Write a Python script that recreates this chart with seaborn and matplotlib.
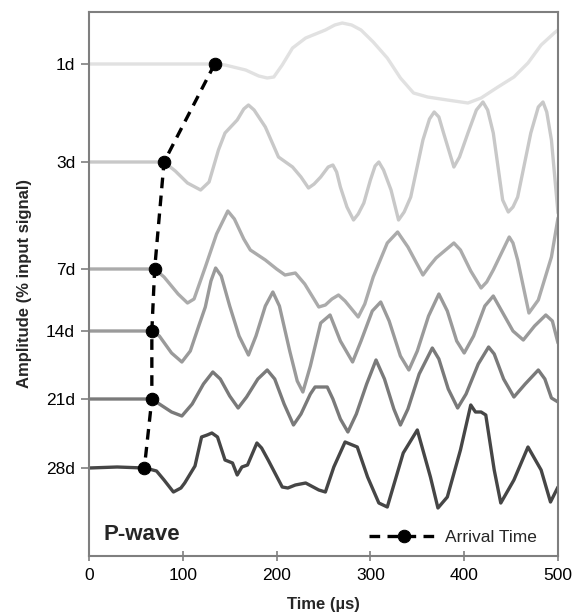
import numpy as np
import pandas as pd
import matplotlib
matplotlib.use("Agg")
import matplotlib.pyplot as plt
import seaborn as sns

# Curing ages, stacked from top to bottom
ages = ["1d", "3d", "7d", "14d", "21d", "28d"]
offsets = [492, 394, 287, 225, 157, 88]
colors = ["#e1e1e1", "#c8c8c8", "#ababab", "#9a9a9a", "#7a7a7a", "#464646"]

# P-wave arrival time for each age (µs)
arrival = [134, 80, 70, 67, 67, 59]

# Recorded waveforms: time (µs) and amplitude relative to each trace's baseline
t_1d = [0, 60, 100, 134, 145, 167, 181, 190, 197, 206, 217, 231, 252, 262, 270, 280, 290,
        303, 318, 332, 346, 361, 382, 404, 418, 436, 453, 468, 482, 496, 500]
a_1d = [0, 0, 0, 0, -1, -6, -12, -14, -13, -1, 16, 26, 34, 39, 41, 39, 34,
        22, 6, -14, -29, -33, -36, -39, -34, -23, -13, 1, 19, 31, 34]

t_3d = [0, 40, 80, 92, 105, 119, 128, 138, 145, 151, 158, 165, 170, 176, 188, 202, 217, 226,
        234, 240, 247, 255, 260, 264, 268, 275, 282, 287, 293, 300, 305, 309, 314, 322, 330,
        336, 343, 356, 363, 368, 373, 378, 389, 395, 404, 413, 420, 425, 431, 441, 447, 452,
        457, 471, 479, 484, 488, 493, 500]
a_3d = [0, 0, 0, -9, -21, -28, -20, 12, 29, 35, 42, 53, 57, 52, 35, 5, -5, -15,
        -26, -22, -15, -5, -3, -10, -25, -45, -58, -52, -41, -18, -4, 0, -8, -28, -58,
        -50, -35, 22, 43, 50, 45, 29, -5, 5, 29, 52, 60, 52, 29, -38, -50, -45,
        -35, 29, 55, 60, 50, 22, -51]

t_7d = [0, 35, 70, 80, 95, 105, 112, 124, 136, 148, 155, 165, 172, 188, 200, 209, 220, 230,
        245, 252, 259, 266, 273, 287, 294, 303, 318, 329, 340, 356, 363, 370, 389, 396, 407,
        418, 424, 431, 448, 452, 457, 469, 479, 493, 500]
a_7d = [0, 0, 0, -8, -25, -34, -30, 2, 35, 58, 50, 30, 19, 9, 0, -6, -4, -15,
        -38, -36, -30, -26, -32, -48, -35, -8, 26, 37, 22, -6, 3, 11, 26, 19, -2,
        -19, -13, -1, 32, 26, 9, -44, -31, 12, 51]

t_14d = [0, 35, 67, 75, 88, 99, 108, 117, 124, 130, 135, 141, 150, 160, 170, 178, 188, 196,
         203, 214, 222, 228, 236, 247, 257, 268, 281, 290, 302, 311, 320, 332, 341, 350, 362,
         373, 382, 392, 400, 410, 422, 431, 440, 452, 463, 475, 487, 494, 500]
a_14d = [0, 0, 0, -5, -22, -31, -20, 5, 24, 50, 63, 55, 25, -5, -24, -5, 25, 39,
         25, -20, -50, -61, -35, 8, 16, -10, -31, -10, 20, 29, 10, -25, -39, -20, 15,
         37, 20, -10, -22, -5, 25, 35, 20, 0, -9, 5, 16, 10, -12]

t_21d = [0, 35, 67, 75, 88, 99, 110, 122, 132, 140, 150, 159, 168, 180, 190, 198, 208, 218,
         226, 236, 241, 254, 260, 268, 276, 285, 296, 306, 315, 325, 332, 340, 352, 366, 373,
         383, 393, 402, 415, 426, 432, 442, 453, 465, 479, 486, 493, 500]
a_21d = [0, 0, 0, -5, -13, -17, -5, 15, 27, 20, 3, -9, 2, 20, 29, 20, -5, -26,
         -15, 5, 12, 12, 0, -20, -33, -15, 15, 39, 20, -10, -26, -10, 25, 51, 40,
         10, -9, 5, 35, 52, 45, 20, 2, 15, 29, 20, 1, -3]

t_28d = [0, 30, 59, 64, 72, 80, 90, 98, 102, 113, 120, 126, 131, 137, 145, 153, 158, 163,
         169, 179, 184, 191, 206, 212, 220, 231, 245, 252, 261, 273, 286, 297, 309, 318, 335,
         350, 364, 372, 382, 396, 407, 412, 418, 423, 432, 439, 453, 468, 482, 492, 500]
a_28d = [0, 1, 0, -1, -3, -12, -24, -20, -15, 2, 31, 33, 35, 31, 8, 5, -7, 1,
         3, 25, 20, 8, -19, -20, -17, -15, -22, -24, 1, 26, 21, -9, -35, -39, 15,
         38, -9, -40, -29, 18, 63, 56, 56, 53, -2, -35, -12, 21, -2, -34, -19]

times = [t_1d, t_3d, t_7d, t_14d, t_21d, t_28d]
amps = [a_1d, a_3d, a_7d, a_14d, a_21d, a_28d]

sns.set_theme(style="ticks")
plt.rcParams["font.family"] = ["Liberation Sans", "DejaVu Sans"]

fig = plt.figure(figsize=(5.72, 6.14), dpi=100)
ax = fig.add_axes([89 / 572, 1 - 556 / 614, 469 / 572, 544 / 614])

for age, off, col, t, a in zip(ages, offsets, colors, times, amps):
    df = pd.DataFrame({"time": t, "signal": np.asarray(a) + off})
    sns.lineplot(data=df, x="time", y="signal", color=col, lw=2.4,
                 estimator=None, sort=False, ax=ax, legend=False)
for line in ax.lines:
    line.set_solid_joinstyle("round")
    line.set_solid_capstyle("round")

arr_df = pd.DataFrame({"time": arrival, "signal": offsets})
sns.lineplot(data=arr_df, x="time", y="signal", color="black", lw=2.4,
             linestyle=(0, (3.2, 2.2)), marker="o", markersize=9,
             markeredgecolor="black", estimator=None, sort=False, ax=ax,
             label="Arrival Time", zorder=5)

ax.set_xlim(0, 500)
ax.set_ylim(0, 544)
ax.set_xticks([0, 100, 200, 300, 400, 500])
ax.set_yticks(offsets)
ax.set_yticklabels(ages)
ax.tick_params(axis="x", direction="inout", length=7, width=1.2, colors="#7f7f7f",
               labelcolor="black", labelsize=12.5, pad=5)
ax.tick_params(axis="y", direction="out", length=6, width=1.2, colors="#7f7f7f",
               labelcolor="black", labelsize=12.5, pad=4)
for sp in ax.spines.values():
    sp.set_visible(True)
    sp.set_color("#7f7f7f")
    sp.set_linewidth(1.5)

ax.set_xlabel("Time (µs)", fontsize=12, fontweight="bold", labelpad=10)
ax.set_ylabel("Amplitude (% input signal)", fontsize=12, fontweight="bold", labelpad=10)

ax.text(15, 21, "P-wave", fontsize=16, fontweight="bold", va="center", ha="left")

leg = ax.legend(loc="lower right", bbox_to_anchor=(0.98, 0.0), frameon=False,
                fontsize=12.5, handlelength=4.0, handletextpad=0.4, borderaxespad=0.25)

fig.savefig("out.png", dpi=100)
